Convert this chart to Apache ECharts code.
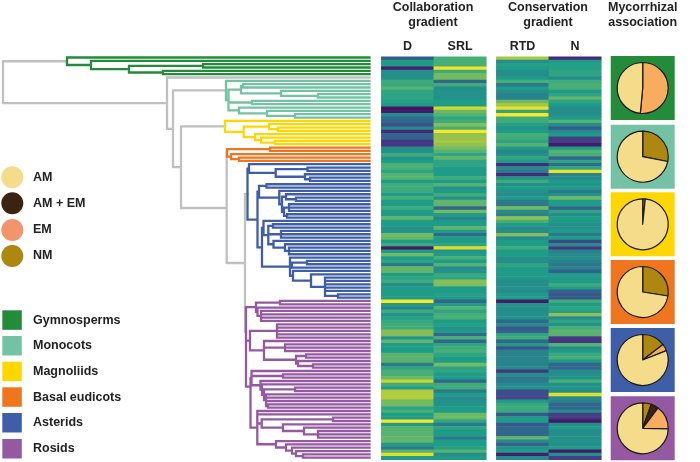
<!DOCTYPE html>
<html>
<head>
<meta charset="utf-8">
<style>html,body{margin:0;padding:0;background:#fff}#c{width:700px;height:462px}</style>
<script src="https://cdn.jsdelivr.net/npm/echarts@6/dist/echarts.min.js"></script>
</head>
<body>
<div id="c"></div>
<script>
// ---- trait values per species row (0..1 position on the colour scale)
const D = [.25,.5,.5,.05,.42,.42,.45,.6,.58,.65,
 .55,.55,.55,.52,.5,.02,.04,.42,.32,.3,
 .22,.4,.08,.3,.28,.13,.13,.4,.42,.6,
 .45,.5,.62,.62,.55,.65,.65,.5,.6,.6,
 .6,.5,.62,.5,.5,.6,.5,.5,.68,.5,
 .5,.43,.45,.72,.68,.5,.6,.03,.5,.72,
 .5,.55,.35,.68,.68,.5,.55,.6,.42,.5,
 .5,.5,.5,1,.5,.38,.6,.45,.52,.58,
 .6,.6,.75,.75,.45,.68,.5,.5,.5,.66,
 .66,.66,.35,.55,.62,.62,.7,.9,.6,.5,
 .85,.85,.85,.72,.72,.55,.62,.5,.5,1,
 .5,.66,.66,.66,.68,.68,.5,.35,.65,.95,.5];
const SRL = [.62,.62,.62,.98,.6,.72,.72,.3,.6,.42,
 .45,.45,.45,.5,.5,.92,.7,.65,.55,.6,
 .75,.62,1,.78,.8,.82,.78,.72,.65,.55,
 .68,.55,.55,.5,.5,.5,.6,.5,.65,.45,
 .5,.6,.45,.68,.68,.3,.72,.5,.38,.5,
 .5,.68,.5,.3,.5,.5,.55,.93,.45,.5,
 .62,.5,.65,.4,.45,.58,.55,.75,.75,.5,
 .5,.52,.5,.3,.5,.65,.55,.62,.62,.5,
 .52,.45,.5,.3,.62,.3,.55,.6,.62,.55,
 .5,.5,.72,.55,.55,.5,.5,.3,.6,.6,
 .35,.5,.4,.45,.45,.5,.5,.7,.7,.55,
 .35,.55,.5,.5,.35,.5,.5,.52,.65,.42,.5];
const RTD = [.82,.42,.52,.5,.42,.42,.5,.62,.35,.5,
 .42,.38,.38,.7,.82,.97,.55,1,.6,.6,
 .52,.45,.5,.62,.6,.55,.65,.5,.38,.42,
 .55,.5,.08,.4,.35,.08,.45,.6,.42,.5,
 .45,.4,.5,.35,.35,.72,.4,.38,.78,.62,
 .5,.4,.42,.75,.4,.5,.5,.6,.5,.5,
 .42,.42,.55,.5,.5,.5,.48,.42,.42,.45,
 .4,.5,.5,.04,.45,.42,.42,.42,.45,.3,
 .42,.25,.28,.55,.6,.3,.5,.22,.38,.38,
 .38,.38,.38,.4,.12,.42,.35,.35,.4,.45,
 .2,.2,.18,.5,.58,.6,.58,.25,.5,.5,
 .25,.3,.3,.3,.68,.4,.28,.45,.5,.05,.4];
const N = [.08,.5,.52,.52,.55,.55,.42,.6,.62,.62,
 .5,.55,.68,.55,.5,.42,.4,.42,.5,.65,
 .42,.25,.4,.5,.15,.15,.04,.5,.65,.62,
 .3,.55,.32,.55,.97,.38,.4,.5,.45,.5,
 .35,.45,.7,.5,.5,.28,.55,.42,.5,.5,
 .42,.45,.5,.35,.5,.18,.42,.12,.38,.4,
 .42,.38,.35,.38,.28,.5,.48,.5,.6,.5,
 .28,.25,.25,.6,.5,.55,.52,.78,.4,.55,
 .45,.62,.66,.66,.12,.12,.65,.42,.5,.58,
 .62,.48,.3,.3,.4,.42,.45,.62,.45,.45,
 .42,.95,.4,.38,.3,.3,.4,.15,.12,.03,
 .42,.5,.4,.42,.45,.45,.42,.5,.04,.42,.15];

// ---- phylogeny: [depth, child, child...]; a plain number k = k leaves hanging from that node
const gymnosperms = [67, 1, [91, 1, [129, [203, 2], [163, 2]]]];
const monocots = [226, 1, [228.5, [241, [243, 2], [281, 1, [318, 2]]], [252, 2], [239, 1, [267, 1, [295, 2]]]]];
const magnoliids = [225, 1, [243.7, [269, 1, [278, 2]], [255, 1, [261, 1, [275, 2]]]]];
const basalEudicots = [227, [270, 2], [231, 1, [239, 2]]];
const asterids = [247.5,
  [249, 1, [275.7, [307.5, 2], [305, 1, [310, 2]]]],
  [257.5,
    [259, [266.5, 2], [279.3, 1, [282, [286, 1, [296, 2]], [284, [289, 3], [287, 2]]]]],
    [262,
      [263.5, 1, [268.3, [273, 2], [281, 3], [273.5, 1, [285, 1, [289, 3]]]]],
      [290, 1, [292, [307, 2], 1], [293, 1, [311, 1, [325, 5, [338, 2]]]]]
    ]
  ]];
const rosids = [[246, 82.3],
  [256, [280, 2], [257.5, 1, [261, 4]]],
  [250, [277, 5], [264, 1, [285, 3], [296, [306, 2], [298, 1, [313, 2]]]]],
  [[250.5, 98.7],
    [251.5, 1, [283, 2], [260.5, 1, [262, 1, [264, [295, 2], [266, 3, [268, 2]]]]]],
    [257.3, 2,
      [261.7, [333, 2], [283, 1, [304, 1, [318, 3]]]],
      [276, 1, [286, 1, [292, 1, [296, 1, [303, 2]]]]]]
  ]];
const backbone = [3, gymnosperms, [167, 1, [173, monocots, [181, magnoliids, [226.7, basalEudicots, [245, asterids, rosids]]]]]];
const tipDepth = 369.5;

// ---- mycorrhizal shares by clade, clockwise from 12 o'clock
const cladeNames = ['Gymnosperms','Monocots','Magnoliids','Basal eudicots','Asterids','Rosids'];
const cladeColors = ['#238b3a','#74c2a5','#ffd700','#f0751f','#3e5ea8','#9459a0'];
const mycoShares = [
  [['EM',51.5],['AM',48.5]],
  [['NM',28],['AM',72]],
  [['NM',1.6],['AM',98.4]],
  [['NM',27.5],['AM',72.5]],
  [['NM',14.6],['EM',4.4],['AM',81]],
  [['NM',5.5],['AM + EM',4.8],['EM',15],['AM',74.7]]
];
const mycoNames = ['AM','AM + EM','EM','NM'];
const mycoLegendColors = ['#f4dc8a','#3b2312','#f3946a','#ad8710'];
const pieColors = {'AM':'#f4dc8a','AM + EM':'#3b2312','EM':'#f8ac60','NM':'#ad8710'};
const traitColors = ['#440f5c','#47307f','#3f4c8b','#31668d','#278a8c','#1f9c88','#3fab7b','#6bb866','#9ac34a','#c9d52f','#fde725'];

// ---- layout of the tree from the nested arrays
const cladeOf = new Map([[gymnosperms,0],[monocots,1],[magnoliids,2],[basalEudicots,3],[asterids,4],[rosids,5]]);
const gray = '#c0c0c0';
const segs = {};
segs[gray] = [];
cladeColors.forEach(c => segs[c] = []);
let nextRow = 0;
function seg(c, x1, y1, x2, y2){ segs[c].push([x1,y1],[x2,y2],[null,null]); }
function place(node, inherited){
  const c = cladeOf.has(node) ? cladeColors[cladeOf.get(node)] : inherited;
  const head = node[0];
  const x = Array.isArray(head) ? head[0] : head;
  const ys = [];
  node.slice(1).forEach(kid => {
    if (typeof kid === 'number') {
      for (let i = 0; i < kid; i++) { const y = nextRow++; ys.push(y); seg(c, x, y, tipDepth, y); }
    } else {
      const r = place(kid, c);
      ys.push(r.y);
      seg(c, x, r.y, r.x, r.y);
    }
  });
  seg(c, x, ys[0], x, ys[ys.length-1]);
  const y = Array.isArray(head) ? head[1] : (ys[0] + ys[ys.length-1]) / 2;
  return {x, y};
}
place(backbone, gray);
const rowCount = nextRow;

// ---- chart
const rows = D.map((_, i) => i);
const heatTop = 56.7, heatH = 403;
const textColor = '#222';
const font = 'Liberation Sans, Arial, sans-serif';
const labelSize = 12.5;
function cells(a, b){
  const out = [];
  a.forEach((v, i) => out.push([0, i, v]));
  b.forEach((v, i) => out.push([1, i, v]));
  return out;
}
const pieCY = [88, 156.7, 224.3, 292, 360, 428.3];
const squareTop = [56, 124.7, 192.3, 260, 328, 396.3];
const legendCY = [177.3, 203.3, 230, 256];
const legendRT = [310.3, 336, 361.7, 387.3, 413, 439];

const graphic = [];
function txt(x, y, s, align, size){
  graphic.push({type:'text', x, y, silent:true, style:{text:s, fill:textColor, font:`bold ${size}px ${font}`, align, verticalAlign:'middle'}});
}
txt(433, 7.5, 'Collaboration', 'center', labelSize); txt(433, 22.5, 'gradient', 'center', labelSize);
txt(548, 7.5, 'Conservation', 'center', labelSize); txt(548, 22.5, 'gradient', 'center', labelSize);
txt(642.7, 7.5, 'Mycorrhizal', 'center', labelSize); txt(642.7, 22.5, 'association', 'center', labelSize);
mycoNames.forEach((n, i) => {
  graphic.push({type:'circle', silent:true, shape:{cx:12.3, cy:legendCY[i], r:11}, style:{fill:mycoLegendColors[i]}});
  txt(33, legendCY[i], n, 'left', labelSize);
});
cladeNames.forEach((n, i) => {
  graphic.push({type:'rect', silent:true, shape:{x:2.3, y:legendRT[i], width:19.5, height:19.5}, style:{fill:cladeColors[i]}});
  txt(33, legendRT[i] + 10, n, 'left', labelSize);
  graphic.push({type:'rect', silent:true, shape:{x:610.7, y:squareTop[i], width:64, height:64}, style:{fill:cladeColors[i]}});
});

const series = [];
[gray].concat(cladeColors).forEach(c => series.push({
  type:'line', xAxisIndex:0, yAxisIndex:0, data:segs[c], symbol:'none', silent:true, clip:false,
  animation:false, connectNulls:false, lineStyle:{color:c, width:c === gray ? 2.3 : 2.3, cap:'square', join:'miter'}
}));
const firstHeat = series.length;
series.push({type:'heatmap', xAxisIndex:1, yAxisIndex:1, data:cells(D, SRL), silent:true, animation:false});
series.push({type:'heatmap', xAxisIndex:2, yAxisIndex:2, data:cells(RTD, N), silent:true, animation:false});
mycoShares.forEach((shares, i) => series.push({
  type:'pie', center:[642.7, pieCY[i]], radius:[0, 25.5], startAngle:90, clockwise:true, silent:true, animation:false,
  label:{show:false}, labelLine:{show:false},
  itemStyle:{borderColor:'#1a1a1a', borderWidth:1.2},
  data:shares.map(s => ({name:s[0], value:s[1], itemStyle:{color:pieColors[s[0]]}}))
}));

function traitX(idx, names){
  return {gridIndex:idx, type:'category', data:names, position:'top', axisLine:{show:false}, axisTick:{show:false}, splitLine:{show:false},
    axisLabel:{show:true, interval:0, margin:4, color:textColor, fontWeight:'bold', fontSize:labelSize, fontFamily:font}};
}
function traitY(idx){
  return {gridIndex:idx, type:'category', data:rows, inverse:true, show:false};
}
const option = {
  backgroundColor:'#fff',
  animation:false,
  grid:[
    {left:0, width:380, top:57.5, height:400.2, containLabel:false},
    {left:381.3, width:105, top:heatTop, height:heatH},
    {left:496.3, width:105, top:heatTop, height:heatH}
  ],
  xAxis:[
    {gridIndex:0, type:'value', min:0, max:380, show:false},
    traitX(1, ['D','SRL']),
    traitX(2, ['RTD','N'])
  ],
  yAxis:[
    {gridIndex:0, type:'value', min:0, max:rowCount-1, inverse:true, show:false},
    traitY(1), traitY(2)
  ],
  visualMap:{show:false, type:'continuous', min:0, max:1, dimension:2, seriesIndex:[firstHeat, firstHeat+1], inRange:{color:traitColors}},
  graphic:graphic,
  series:series
};
echarts.init(document.getElementById('c'), null, {renderer:'canvas'}).setOption(option);
</script>
</body>
</html>
